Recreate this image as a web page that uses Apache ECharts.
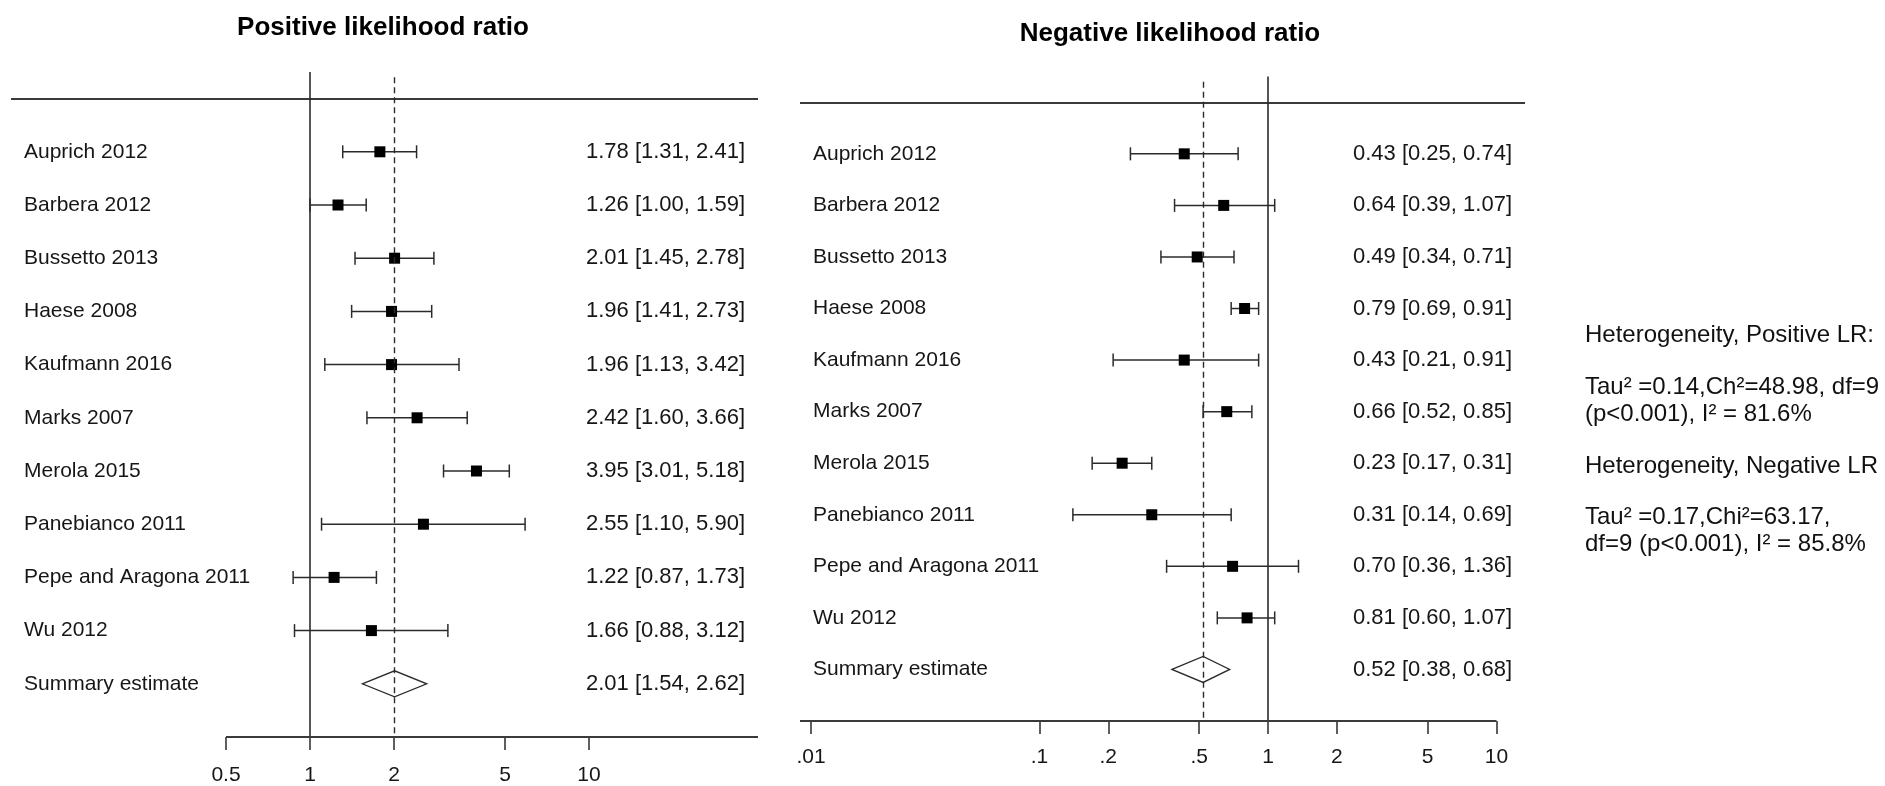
<!DOCTYPE html>
<html><head><meta charset="utf-8">
<script src="https://cdn.jsdelivr.net/npm/echarts@6/dist/echarts.min.js"></script>
<style>html,body{margin:0;padding:0;background:#fff}#c{width:1885px;height:786px}</style>
</head><body><div id="c"></div>
<script>
// ---------- data ----------
const studies = ['Auprich 2012','Barbera 2012','Bussetto 2013','Haese 2008','Kaufmann 2016','Marks 2007','Merola 2015','Panebianco 2011','Pepe and Aragona 2011','Wu 2012'];
const summaryLabel = 'Summary estimate';
const plrEst = [1.78,1.26,2.01,1.96,1.96,2.42,3.95,2.55,1.22,1.66];
const plrLo  = [1.31,1.00,1.45,1.41,1.13,1.60,3.01,1.10,0.87,0.88];
const plrHi  = [2.41,1.59,2.78,2.73,3.42,3.66,5.18,5.90,1.73,3.12];
const plrSummary = [2.01,1.54,2.62];
const nlrEst = [0.43,0.64,0.49,0.79,0.43,0.66,0.23,0.31,0.70,0.81];
const nlrLo  = [0.25,0.39,0.34,0.69,0.21,0.52,0.17,0.14,0.36,0.60];
const nlrHi  = [0.74,1.07,0.71,0.91,0.91,0.85,0.31,0.69,1.36,1.07];
const nlrSummary = [0.52,0.38,0.68];
const plrTicks = [0.5,1,2,5,10];
const plrTickLabels = ['0.5','1','2','5','10'];
const nlrTicks = [0.01,0.1,0.2,0.5,1,2,5,10];
const nlrTickLabels = ['.01','.1','.2','.5','1','2','5','10'];
const titles = ['Positive likelihood ratio','Negative likelihood ratio'];
const hetLines = ['Heterogeneity, Positive LR:','Tau\u00B2 =0.14,Ch\u00B2=48.98, df=9','(p<0.001), I\u00B2 = 81.6%','Heterogeneity, Negative LR','Tau\u00B2 =0.17,Chi\u00B2=63.17,','df=9 (p<0.001), I\u00B2 = 85.8%'];

// ---------- helpers ----------
const FONT = "'Liberation Sans', Arial, sans-serif";
const TXT = '#161616';
const LN = '#2b2b2b';
const rowLabels = studies.concat([summaryLabel]);
const rowIdx = rowLabels.map((_, i) => i);
function fmt(e, l, h) { return e.toFixed(2) + ' [' + l.toFixed(2) + ', ' + h.toFixed(2) + ']'; }
function buildData(est, lo, hi, sum) {
  const d = est.map((e, i) => [e, lo[i], hi[i], i, 0]);
  d.push([sum[0], sum[1], sum[2], studies.length, 1]);
  return d;
}
function valueTexts(est, lo, hi, sum) {
  return est.map((e, i) => fmt(e, lo[i], hi[i])).concat([fmt(sum[0], sum[1], sum[2])]);
}
function nearestLabel(ticks, labels, v) {
  let best = 0, bd = Infinity;
  ticks.forEach((t, i) => { const d = Math.abs(Math.log(v / t)); if (d < bd) { bd = d; best = i; } });
  return labels[best];
}
function renderForest(params, api) {
  const est = api.value(0), lo = api.value(1), hi = api.value(2), row = api.value(3), kind = api.value(4);
  const pE = api.coord([est, row]), pL = api.coord([lo, row]), pH = api.coord([hi, row]);
  const y = pE[1];
  if (kind === 1) {
    return { type: 'polygon', shape: { points: [[pL[0], y], [pE[0], y - 13], [pH[0], y], [pE[0], y + 13]] },
      style: { stroke: LN, lineWidth: 1.3, fill: 'rgba(0,0,0,0)' } };
  }
  const s = { stroke: LN, lineWidth: 1.5 };
  return { type: 'group', children: [
    { type: 'line', shape: { x1: pL[0], y1: y, x2: pH[0], y2: y }, style: s },
    { type: 'line', shape: { x1: pL[0], y1: y - 6.5, x2: pL[0], y2: y + 6.5 }, style: s },
    { type: 'line', shape: { x1: pH[0], y1: y - 6.5, x2: pH[0], y2: y + 6.5 }, style: s },
    { type: 'rect', shape: { x: pE[0] - 5.5, y: y - 5.5, width: 11, height: 11 }, style: { fill: '#000' } }
  ] };
}
function yAxes(grid, texts) {
  const base = { gridIndex: grid, type: 'value', min: -1.5, max: 11, inverse: true,
    axisLine: { show: false, onZero: false }, axisTick: { show: false }, splitLine: { show: false } };
  return [
    Object.assign({}, base, { position: 'left', axisLabel: { inside: true, margin: 13, customValues: rowIdx,
      formatter: v => rowLabels[Math.round(v)], fontSize: 21, fontFamily: FONT, color: TXT } }),
    Object.assign({}, base, { position: 'right', axisLabel: { inside: true, margin: 13, customValues: rowIdx,
      formatter: v => texts[Math.round(v)], fontSize: 22, fontFamily: FONT, color: TXT } })
  ];
}
function xAxis(grid, min, max, ticks, labels, margin) {
  return { gridIndex: grid, type: 'log', logBase: 10, min: min, max: max, position: 'bottom',
    axisLine: { show: false, onZero: false }, splitLine: { show: false },
    axisTick: { show: true, customValues: ticks, length: 13, lineStyle: { color: LN, width: 1.5 } },
    axisLabel: { customValues: ticks, margin: margin, formatter: v => nearestLabel(ticks, labels, v),
      fontSize: 21, fontFamily: FONT, color: TXT } };
}
function refLines(sumEst, axisStart, axisEnd) {
  return { symbol: 'none', silent: true, label: { show: false }, animation: false, data: [
    { yAxis: -1, lineStyle: { color: '#3a3a3a', width: 2, type: 'solid' } },
    { xAxis: 1, lineStyle: { color: LN, width: 1.6, type: 'solid' } },
    [{ coord: [sumEst, -1.4], lineStyle: { color: LN, width: 1.4, type: [6, 4] } }, { coord: [sumEst, 11] }],
    [{ coord: [axisStart, 11], lineStyle: { color: '#3a3a3a', width: 2, type: 'solid' } }, { coord: [axisEnd, 11] }]
  ] };
}

const plrMin = 0.0848, plrMax = 40.33;
const nlrMin = 0.00895, nlrMax = 13.33;

const graphics = [
  { type: 'text', style: { text: titles[0], x: 383, y: 28, font: 'bold 26px ' + FONT, fill: '#000', textAlign: 'center', textVerticalAlign: 'middle' } },
  { type: 'text', style: { text: titles[1], x: 1170, y: 34, font: 'bold 26px ' + FONT, fill: '#000', textAlign: 'center', textVerticalAlign: 'middle' } }
];
const hetY = [335, 387, 414, 466, 517, 544];
hetLines.forEach((t, i) => graphics.push({ type: 'text', style: { text: t, x: 1585, y: hetY[i], font: '24px ' + FONT, fill: '#111', textAlign: 'left', textVerticalAlign: 'middle' } }));

const option = {
  animation: false,
  backgroundColor: '#fff',
  grid: [
    { left: 11, right: 1885 - 758, top: 72, bottom: 786 - 738 },
    { left: 800, right: 1885 - 1525, top: 76.5, bottom: 786 - 721 }
  ],
  xAxis: [
    xAxis(0, plrMin, plrMax, plrTicks, plrTickLabels, 28),
    xAxis(1, nlrMin, nlrMax, nlrTicks, nlrTickLabels, 26)
  ],
  yAxis: yAxes(0, valueTexts(plrEst, plrLo, plrHi, plrSummary)).concat(yAxes(1, valueTexts(nlrEst, nlrLo, nlrHi, nlrSummary))),
  series: [
    { type: 'custom', xAxisIndex: 0, yAxisIndex: 0, renderItem: renderForest, encode: { x: [0, 1, 2], y: 3 },
      data: buildData(plrEst, plrLo, plrHi, plrSummary), markLine: refLines(plrSummary[0], plrTicks[0], plrMax), z: 3 },
    { type: 'custom', xAxisIndex: 1, yAxisIndex: 2, renderItem: renderForest, encode: { x: [0, 1, 2], y: 3 },
      data: buildData(nlrEst, nlrLo, nlrHi, nlrSummary), markLine: refLines(nlrSummary[0], nlrMin, nlrTicks[nlrTicks.length - 1]), z: 3 }
  ],
  graphic: graphics
};
const chart = echarts.init(document.getElementById('c'), null, { renderer: 'canvas' });
chart.setOption(option);
</script>
</body></html>
